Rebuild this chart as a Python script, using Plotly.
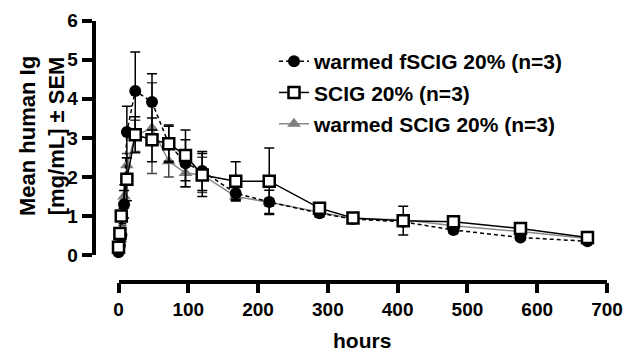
import plotly.graph_objects as go

# ---- data ----
t_f = [0, 2, 4, 8, 12, 24, 48, 72, 96, 120, 168, 216, 288, 336, 408, 480, 576, 672]
f_mean = [0.07, 0.25, 0.5, 1.3, 3.15, 4.2, 3.92, 2.85, 2.35, 2.15, 1.58, 1.36, 1.07, 0.92, 0.85, 0.64, 0.45, 0.35]
f_sem = [0.03, 0.1, 0.15, 0.35, 0.66, 1.0, 0.72, 0.48, 0.6, 0.5, 0.15, 0.3, 0.1, 0.08, 0.1, 0.08, 0.06, 0.05]

t_s = [0, 2, 4, 12, 24, 48, 72, 96, 120, 168, 216, 288, 336, 408, 480, 576, 672]
s_mean = [0.2, 0.55, 1.0, 1.94, 3.08, 2.95, 2.85, 2.55, 2.05, 1.89, 1.89, 1.2, 0.95, 0.88, 0.85, 0.68, 0.45]
s_sem = [0.05, 0.1, 0.2, 0.55, 0.46, 0.56, 0.45, 0.65, 0.55, 0.5, 0.85, 0.12, 0.08, 0.37, 0.1, 0.08, 0.06]

t_w = [0, 2, 4, 8, 12, 24, 48, 72, 96, 120, 168, 216, 288, 336, 408, 480, 576, 672]
w_mean = [0.1, 0.4, 0.6, 1.5, 2.3, 3.05, 3.25, 2.4, 2.1, 2.05, 1.5, 1.35, 1.1, 0.93, 0.9, 0.75, 0.6, 0.42]
w_sem = [0.03, 0.1, 0.15, 0.3, 0.3, 0.4, 1.16, 0.4, 0.35, 0.45, 0.12, 0.1, 0.1, 0.06, 0.08, 0.06, 0.05, 0.04]

names = ["warmed fSCIG 20% (n=3)", "SCIG 20% (n=3)", "warmed SCIG 20% (n=3)"]
x_ticks = [0, 100, 200, 300, 400, 500, 600, 700]
y_ticks = [0, 1, 2, 3, 4, 5, 6]

W, H = 627, 353
FONT = "Liberation Sans, Arial, sans-serif"

fig = go.Figure()

# warmed SCIG (gray triangles) drawn first
fig.add_trace(go.Scatter(
    x=t_w, y=w_mean, name=names[2], mode="lines+markers", legendrank=3,
    line=dict(color="#8a8a8a", width=1.5),
    marker=dict(symbol="triangle-up", size=12, color="#7f7f7f", line=dict(width=0)),
    error_y=dict(type="data", array=w_sem, color="#444444", thickness=1.5, width=5),
    cliponaxis=False))

fig.add_trace(go.Scatter(
    x=t_f, y=f_mean, name=names[0], mode="lines+markers", legendrank=1,
    line=dict(color="black", width=1.5, dash="4px,3px"),
    marker=dict(symbol="circle", size=12, color="black"),
    error_y=dict(type="data", array=f_sem, color="black", thickness=1.5, width=5),
    cliponaxis=False))

fig.add_trace(go.Scatter(
    x=t_s, y=s_mean, name=names[1], mode="lines+markers", legendrank=2,
    line=dict(color="black", width=1.5),
    marker=dict(symbol="square", size=11, color="white", line=dict(color="black", width=2.5)),
    error_y=dict(type="data", array=s_sem, color="black", thickness=1.5, width=5),
    cliponaxis=False))

x0px, x1px = 118.5, 607.0
y0px, y1px = 255.0, 20.7
yaxis_px = 93.5
xaxis_px = 281.7

axis_common = dict(
    showline=True, linecolor="black", linewidth=3.5,
    ticks="outside", ticklen=10, tickwidth=3.5, tickcolor="black",
    showgrid=False, zeroline=False, anchor="free",
    tickfont=dict(size=19, family=FONT, weight="bold", color="black"),
)

fig.update_layout(
    width=W, height=H,
    margin=dict(l=0, r=0, t=0, b=0, autoexpand=False),
    paper_bgcolor="white", plot_bgcolor="white",
    font=dict(family=FONT, color="black", size=19),
    showlegend=True,
    legend=dict(x=274 / W, y=1 - 41 / H, xanchor="left", yanchor="top",
                font=dict(size=21, family=FONT, color="black", weight="bold"),
                bgcolor="rgba(0,0,0,0)", traceorder="grouped", itemwidth=30,
                tracegroupgap=1),
    xaxis=dict(domain=[x0px / W, x1px / W], range=[0, 700],
               position=1 - xaxis_px / H,
               tickmode="array", tickvals=x_ticks, ticktext=[str(v) for v in x_ticks],
               **axis_common),
    yaxis=dict(domain=[1 - y0px / H, 1 - y1px / H], range=[0, 6],
               position=yaxis_px / W,
               tickmode="array", tickvals=y_ticks, ticktext=[str(v) for v in y_ticks],
               **axis_common),
    annotations=[
        dict(text="<b>Mean human Ig<br>[mg/mL] ± SEM</b>", xref="paper", yref="paper",
             x=42 / W, y=1 - 136 / H, textangle=-90, showarrow=False,
             font=dict(size=22, family=FONT), xanchor="center", yanchor="middle"),
        dict(text="<b>hours</b>", xref="paper", yref="paper",
             x=362 / W, y=1 - 340 / H, showarrow=False,
             font=dict(size=21, family=FONT), xanchor="center", yanchor="middle"),
    ],
)
for tr in fig.data:
    tr.legendgroup = tr.name

fig.write_html("out.html")
